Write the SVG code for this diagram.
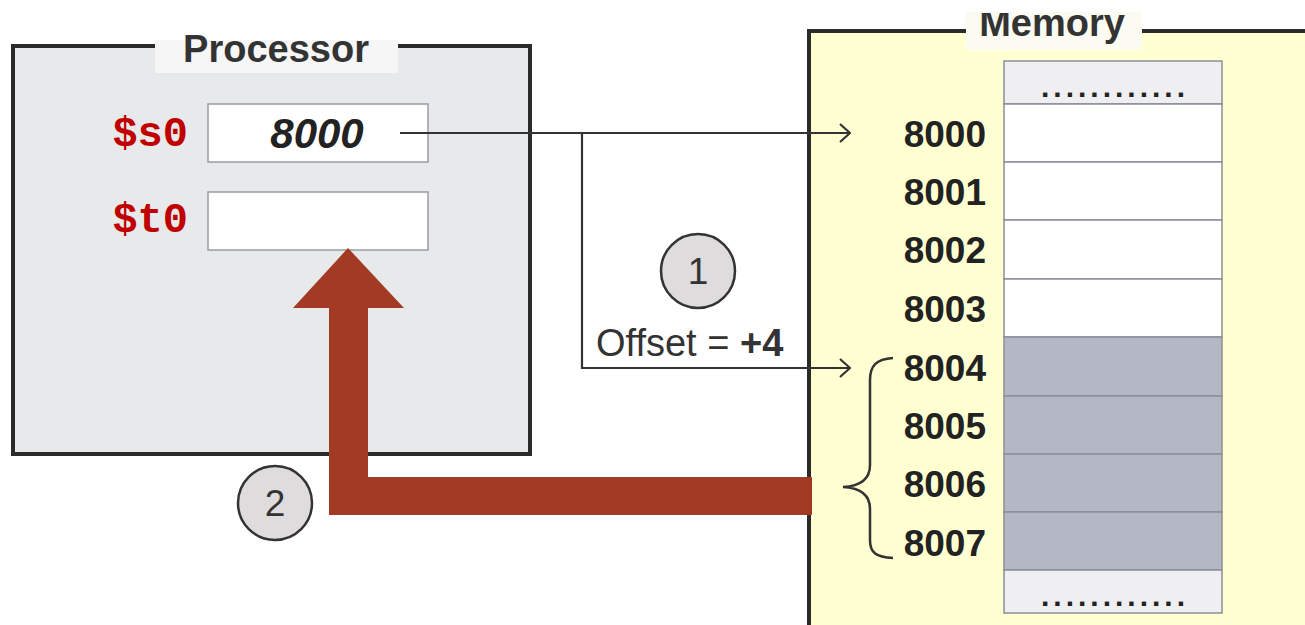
<svg xmlns="http://www.w3.org/2000/svg" width="1305" height="625" viewBox="0 0 1305 625">
<style>
.title{font-family:"Liberation Sans",Arial,sans-serif;font-weight:bold;font-size:38px;fill:#333;text-anchor:middle}
.reg{font-family:"Liberation Mono","Courier New",monospace;font-weight:bold;font-size:42px;fill:#c00000;text-anchor:end}
.addr{font-family:"Liberation Sans",Arial,sans-serif;font-weight:bold;font-size:37px;fill:#222;text-anchor:end}
.cell{stroke:#8a8e99;stroke-width:1.5}
.dots{font-family:"Liberation Sans",Arial,sans-serif;font-weight:bold;font-size:30px;fill:#222;text-anchor:middle;letter-spacing:4px}
.num{font-family:"Liberation Sans",Arial,sans-serif;font-size:37px;fill:#333;text-anchor:middle}
.circ{fill:#dedcdc;stroke:#333;stroke-width:2.5}
.conn{fill:none;stroke:#333;stroke-width:2.2}
</style>
<defs>
<marker id="open" viewBox="0 0 12 20" refX="11" refY="10" markerWidth="12" markerHeight="20" markerUnits="userSpaceOnUse" orient="auto">
<polyline points="1,1 11,10 1,19" fill="none" stroke="#333" stroke-width="2.2"/>
</marker>
<clipPath id="topclip"><rect x="0" y="13" width="1305" height="612"/></clipPath>
</defs>
<rect width="1305" height="625" fill="#fff"/>
<g id="processor">
<rect x="13" y="46" width="517" height="408" fill="#e8e9ea" stroke="#2b2b2b" stroke-width="4"/>
<rect x="155" y="40" width="243" height="33" fill="#f6f6f6"/>
<text class="title" x="276" y="62">Processor</text>
</g>
<g id="reg-s0">
<text class="reg" x="188" y="146">$s0</text>
<rect x="208" y="104" width="220" height="58" fill="#fff" stroke="#9a9ca3" stroke-width="1.5"/>
<text x="317" y="148" font-family="Liberation Sans,Arial,sans-serif" font-weight="bold" font-style="italic" font-size="42" fill="#222" text-anchor="middle">8000</text>
</g>
<g id="reg-t0">
<text class="reg" x="188" y="232">$t0</text>
<rect x="208" y="192" width="220" height="58" fill="#fff" stroke="#9a9ca3" stroke-width="1.5"/>
</g>
<g id="memory">
<rect x="809" y="31" width="510" height="610" fill="#ffffd2" stroke="#2b2b2b" stroke-width="4"/>
<rect x="966" y="12" width="176" height="38" fill="#fbfbf2"/>
<text class="title" x="1052" y="36" clip-path="url(#topclip)">Memory</text>
<rect class="cell" x="1004" y="61" width="218" height="43" fill="#efeff1"/>
<text class="dots" x="1115" y="97">............</text>
<rect class="cell" x="1004" y="104" width="218" height="58" fill="#fff"/>
<rect class="cell" x="1004" y="162" width="218" height="58" fill="#fff"/>
<rect class="cell" x="1004" y="220" width="218" height="59" fill="#fff"/>
<rect class="cell" x="1004" y="279" width="218" height="58" fill="#fff"/>
<rect class="cell" x="1004" y="337" width="218" height="59" fill="#b3b8c4"/>
<rect class="cell" x="1004" y="396" width="218" height="58" fill="#b3b8c4"/>
<rect class="cell" x="1004" y="454" width="218" height="58" fill="#b3b8c4"/>
<rect class="cell" x="1004" y="512" width="218" height="58" fill="#b3b8c4"/>
<rect class="cell" x="1004" y="570" width="218" height="43" fill="#efeff1"/>
<text class="dots" x="1115" y="606">............</text>
<text class="addr" x="986" y="147">8000</text>
<text class="addr" x="986" y="205">8001</text>
<text class="addr" x="986" y="263">8002</text>
<text class="addr" x="986" y="322">8003</text>
<text class="addr" x="986" y="381">8004</text>
<text class="addr" x="986" y="439">8005</text>
<text class="addr" x="986" y="497">8006</text>
<text class="addr" x="986" y="556">8007</text>
<path d="M893,358 C876,359 870,366 870,380 L870,465 C870,478 862,486 843,487 C862,488 870,496 870,509 L870,540 C870,553 876,557 893,558" fill="none" stroke="#333" stroke-width="2.5"/>
</g>
<g id="step1">
<circle class="circ" cx="698" cy="271" r="37"/>
<text class="num" x="698" y="284">1</text>
<text x="596" y="356" font-family="Liberation Sans,Arial,sans-serif" font-size="38" fill="#333">Offset = <tspan font-weight="bold">+4</tspan></text>
</g>
<g id="step2">
<circle class="circ" cx="275" cy="503" r="37"/>
<text class="num" x="275" y="516">2</text>
</g>
<g id="connectors">
<path class="conn" d="M400,133 H850" marker-end="url(#open)"/>
<path class="conn" d="M582,133 V368 H850" marker-end="url(#open)"/>
<path d="M329,515 V308 H293 L348,248 L404,308 H368 V477 H812 V515 Z" fill="#a33a24"/>
</g>
</svg>
